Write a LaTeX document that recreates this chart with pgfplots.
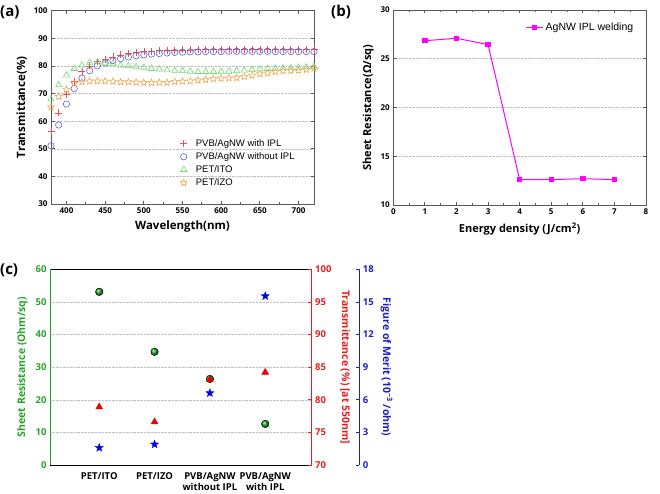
\documentclass[border=0pt]{standalone}
\usepackage{pgfplots}
\usepackage{pgfplotstable}
\pgfplotsset{compat=1.18}
\usepackage{fontspec}
\setmainfont{Open Sans}
\newfontfamily\arialf{Liberation Sans}
\definecolor{framegray}{RGB}{90,90,90}
\definecolor{cred}{RGB}{232,80,80}
\definecolor{cblue}{RGB}{95,95,215}
\definecolor{cgreen}{RGB}{110,215,110}
\definecolor{corange}{RGB}{240,165,80}
\definecolor{cmag}{RGB}{255,0,255}
\definecolor{gtext}{RGB}{40,165,40}
\definecolor{rtext}{RGB}{235,30,30}
\definecolor{btext}{RGB}{30,30,200}
\definecolor{gball}{RGB}{30,160,30}
\definecolor{rtri}{RGB}{235,0,0}
\definecolor{bstar}{RGB}{0,0,230}

\pgfdeclareplotmark{ostar}{%
  \pgfpathmoveto{\pgfqpointpolar{90}{\pgfplotmarksize}}%
  \pgfpathlineto{\pgfqpointpolar{126}{0.45\pgfplotmarksize}}%
  \pgfpathlineto{\pgfqpointpolar{162}{\pgfplotmarksize}}%
  \pgfpathlineto{\pgfqpointpolar{198}{0.45\pgfplotmarksize}}%
  \pgfpathlineto{\pgfqpointpolar{234}{\pgfplotmarksize}}%
  \pgfpathlineto{\pgfqpointpolar{270}{0.45\pgfplotmarksize}}%
  \pgfpathlineto{\pgfqpointpolar{306}{\pgfplotmarksize}}%
  \pgfpathlineto{\pgfqpointpolar{342}{0.45\pgfplotmarksize}}%
  \pgfpathlineto{\pgfqpointpolar{18}{\pgfplotmarksize}}%
  \pgfpathlineto{\pgfqpointpolar{54}{0.45\pgfplotmarksize}}%
  \pgfpathclose
  \pgfusepathqstroke}
\pgfdeclareplotmark{fstar}{%
  \pgfpathmoveto{\pgfqpointpolar{90}{\pgfplotmarksize}}%
  \pgfpathlineto{\pgfqpointpolar{126}{0.42\pgfplotmarksize}}%
  \pgfpathlineto{\pgfqpointpolar{162}{\pgfplotmarksize}}%
  \pgfpathlineto{\pgfqpointpolar{198}{0.42\pgfplotmarksize}}%
  \pgfpathlineto{\pgfqpointpolar{234}{\pgfplotmarksize}}%
  \pgfpathlineto{\pgfqpointpolar{270}{0.42\pgfplotmarksize}}%
  \pgfpathlineto{\pgfqpointpolar{306}{\pgfplotmarksize}}%
  \pgfpathlineto{\pgfqpointpolar{342}{0.42\pgfplotmarksize}}%
  \pgfpathlineto{\pgfqpointpolar{18}{\pgfplotmarksize}}%
  \pgfpathlineto{\pgfqpointpolar{54}{0.42\pgfplotmarksize}}%
  \pgfpathclose
  \pgfusepathqfillstroke}

\pgfplotsset{mylegimg/.style={legend image code/.code={\path (-0.1cm,0cm) (0.35cm,0cm); \draw[##1] plot coordinates {(0cm,0cm)};}}}

\pgfplotstableread{
wl   withipl woipl  ito   izo
380  56.2   51.1   68.0  65.1
390  63.0   58.6   73.1  68.9
400  69.6   66.2   76.6  71.5
410  74.5   71.8   79.0  73.7
420  77.9   75.6   80.2  74.2
430  80.0   78.3   81.2  74.5
440  81.5   80.0   81.4  74.5
450  82.5   81.1   81.0  74.5
460  83.3   81.9   80.9  74.4
470  84.0   82.6   80.2  74.2
480  84.5   83.2   80.0  74.2
490  84.9   83.7   79.7  74.1
500  85.2   84.0   79.4  73.9
510  85.3   84.3   79.0  73.9
520  85.5   84.5   78.8  74.0
530  85.6   84.7   78.5  74.0
540  85.7   84.9   78.3  74.3
550  85.8   85.0   78.2  74.4
560  85.8   85.1   78.0  74.5
570  85.9   85.1   77.9  74.8
580  85.9   85.2   77.9  75.0
590  85.9   85.2   77.9  75.3
600  86.0   85.2   78.0  75.5
610  86.0   85.3   78.0  75.6
620  86.0   85.3   78.2  75.7
630  86.0   85.3   78.4  76.1
640  86.0   85.3   78.6  76.6
650  86.0   85.3   78.8  77.1
660  86.0   85.3   79.0  77.4
670  86.0   85.2   79.1  77.9
680  86.0   85.2   79.2  78.2
690  86.0   85.2   79.2  78.3
700  86.0   85.2   79.4  78.4
710  86.0   85.2   79.5  78.6
720  86.0   85.2   79.7  79.1
}\transdata

\pgfplotstableread{
e   rs
1   26.85
2   27.1
3   26.45
4   12.6
5   12.6
6   12.7
7   12.6
}\ipldata

\pgfplotstableread{
cat  rs    tr     fom
1    53.1  78.9   1.59
2    34.7  76.6   1.90
3    26.4  83.1   6.62
4    12.6  84.2   15.54
}\cdata

\begin{document}
\begin{tikzpicture}
\path[use as bounding box] (0,0) rectangle (660pt,493pt);

% ---------- (a) ----------
\begin{axis}[at={(51pt,289pt)}, anchor=south west, scale only axis,
  width=263pt, height=193.3pt,
  xmin=380, xmax=720, ymin=30, ymax=100,
  xtick={400,450,...,700}, ytick={30,40,...,100},
  minor x tick num=1,
  axis line style={framegray, line width=0.8pt},
  tick style={framegray, line width=0.8pt},
  major tick length=3.5pt, minor tick length=2pt,
  ymajorgrids, grid style={densely dotted, gray!50, line width=0.5pt},
  tick label style={font=\bfseries\fontsize{8}{9}\selectfont},
  /pgf/number format/assume math mode=true,
  xlabel={Wavelength(nm)}, ylabel={Transmittance(\%)},
  label style={font=\bfseries\fontsize{11.5}{13}\selectfont},
  legend style={at={(0.479,0.355)}, anchor=north west, draw=none, fill=none,
    font=\arialf\fontsize{9.5}{11}\selectfont, row sep=0.6pt},
  legend cell align=left,
]
\addplot[only marks, mylegimg, mark=+, mark size=3.5pt, cred, mark options={line width=0.6pt}] table[x=wl, y=withipl] {\transdata};
\addlegendentry{PVB/AgNW with IPL}
\addplot[only marks, mylegimg, mark=o, mark size=3.2pt, cblue, mark options={line width=0.6pt}] table[x=wl, y=woipl] {\transdata};
\addlegendentry{PVB/AgNW without IPL}
\addplot[only marks, mylegimg, mark=triangle, mark size=3.6pt, cgreen, mark options={line width=0.6pt}] table[x=wl, y=ito] {\transdata};
\addlegendentry{PET/ITO}
\addplot[only marks, mylegimg, mark=ostar, mark size=3.6pt, corange, mark options={line width=0.6pt}] table[x=wl, y=izo] {\transdata};
\addlegendentry{PET/IZO}
\end{axis}

% ---------- (b) ----------
\begin{axis}[at={(393.3pt,288pt)}, anchor=south west, scale only axis,
  width=252.7pt, height=195pt,
  xmin=0, xmax=8, ymin=10, ymax=30,
  xtick={0,...,8}, ytick={10,15,...,30},
  minor x tick num=1,
  axis line style={framegray, line width=0.8pt},
  tick style={framegray, line width=0.8pt},
  major tick length=3.5pt, minor tick length=2pt,
  ymajorgrids, grid style={densely dotted, gray!50, line width=0.5pt},
  tick label style={font=\bfseries\fontsize{8}{9}\selectfont},
  /pgf/number format/assume math mode=true,
  xlabel={Energy density (J/cm\textsuperscript{2})}, ylabel={Sheet Resistance(Ω/sq)},
  label style={font=\bfseries\fontsize{11}{13}\selectfont},
  xlabel style={yshift=-2pt},
  legend style={at={(0.97,0.955)}, anchor=north east, draw=none, fill=none,
    font=\arialf\fontsize{10.5}{12}\selectfont},
]
\addplot[cmag, line width=1pt, mark=square*, mark size=2.2pt] table[x=e, y=rs] {\ipldata};
\addlegendentry{AgNW IPL welding}
\end{axis}

% ---------- (c) ----------
\begin{axis}[at={(50pt,28pt)}, anchor=south west, scale only axis,
  width=261.7pt, height=195.7pt,
  xmin=0.11, xmax=4.84, ymin=0, ymax=60,
  ytick={0,10,...,60}, xtick={1,2,3,4},
  xticklabels={PET/ITO, PET/IZO, {PVB/AgNW\\without IPL}, {PVB/AgNW\\with IPL}},
  separate axis lines, axis x line*=box, axis y line*=left,
  x axis line style={black, line width=0.8pt},
  y axis line style={gtext, line width=0.8pt},
  major tick length=0pt,
  xticklabel style={align=center, font=\bfseries\fontsize{9.5}{11}\selectfont, text=black, yshift=-4pt},
  yticklabel style={font=\bfseries\fontsize{9.5}{11}\selectfont, text=gtext},
  /pgf/number format/assume math mode=true,
  ymajorgrids, grid style={densely dotted, gray!50, line width=0.5pt},
  ylabel={Sheet Resistance (Ohm/sq)},
  ylabel style={font=\bfseries\fontsize{10.5}{12}\selectfont, text=gtext, yshift=1pt},
]
\addplot[only marks, mark=ball, mark size=3.8pt, mark options={ball color=gball}] table[x=cat, y=rs] {\cdata};
\end{axis}

\begin{axis}[at={(50pt,28pt)}, anchor=south west, scale only axis,
  width=261.7pt, height=195.7pt,
  xmin=0.11, xmax=4.84, ymin=70, ymax=100,
  ytick={70,75,...,100},
  axis x line=none, axis y line*=right,
  y axis line style={rtext, line width=0.8pt},
  ytick style={rtext, line width=0.8pt}, major tick length=3.5pt,
  yticklabel style={font=\bfseries\fontsize{9.5}{11}\selectfont, text=rtext},
  /pgf/number format/assume math mode=true,
  ylabel={Transmittance (\%) [at 550nm]},
  ylabel style={font=\bfseries\fontsize{10.5}{12}\selectfont, text=rtext, rotate=180, yshift=2pt},
]
\addplot[only marks, mark=triangle*, mark size=4pt, rtri] table[x=cat, y=tr] {\cdata};
\end{axis}

\begin{axis}[at={(50pt,28pt)}, anchor=south west, scale only axis,
  width=261.7pt, height=195.7pt,
  xmin=0.11, xmax=4.84, ymin=0, ymax=18,
  ytick={0,3,...,18},
  axis x line=none, axis y line*=right, axis y line shift=47.6pt,
  y axis line style={btext, line width=0.8pt},
  ytick style={btext, line width=0.8pt}, major tick length=3.5pt,
  yticklabel style={font=\bfseries\fontsize{9.5}{11}\selectfont, text=btext},
  /pgf/number format/assume math mode=true,
  ylabel={Figure of Merit (10\textsuperscript{−3} /ohm)},
  ylabel style={font=\bfseries\fontsize{10.5}{12}\selectfont, text=btext, rotate=180},
]
\addplot[only marks, mark=fstar, mark size=4.3pt, bstar, mark options={fill=bstar, line width=0.3pt}] table[x=cat, y=fom] {\cdata};
\end{axis}

% panel labels
\node[anchor=west, inner sep=0pt, font=\bfseries\fontsize{15}{17}\selectfont] at (0pt,481pt) {(a)};
\node[anchor=west, inner sep=0pt, font=\bfseries\fontsize{15}{17}\selectfont] at (331pt,481pt) {(b)};
\node[anchor=west, inner sep=0pt, font=\bfseries\fontsize{15}{17}\selectfont] at (0pt,223pt) {(c)};
\end{tikzpicture}
\end{document}
